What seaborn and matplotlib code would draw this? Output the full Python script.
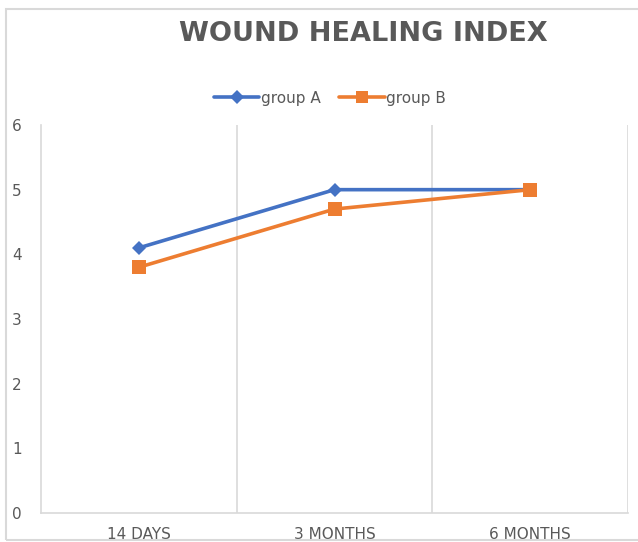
import matplotlib
matplotlib.use("Agg")
import matplotlib.pyplot as plt
import seaborn as sns
import pandas as pd
from matplotlib.patches import Rectangle
from matplotlib.ticker import FixedLocator
from matplotlib.lines import Line2D

categories = ["14 DAYS", "3 MONTHS", "6 MONTHS"]
group_a = [4.1, 5.0, 5.0]
group_b = [3.8, 4.7, 5.0]
series_names = ["group A", "group B"]
y_ticks = [0, 1, 2, 3, 4, 5, 6]

df = pd.DataFrame({
    "time": categories * 2,
    "value": group_a + group_b,
    "group": [series_names[0]] * 3 + [series_names[1]] * 3,
})
df["pos"] = [0, 1, 2] * 2

sns.set_theme(style="white")
plt.rcParams["font.family"] = ["DejaVu Sans"]

fig = plt.figure(figsize=(6.38, 5.42), dpi=100)
ax = fig.add_axes([41 / 638, 1 - 513 / 542, (628 - 41) / 638, (513 - 125) / 542])

palette = {"group A": "#4472C4", "group B": "#ED7D31"}
markers = {"group A": "D", "group B": "s"}
sns.lineplot(data=df, x="pos", y="value", hue="group", style="group",
             palette=palette, markers=markers, dashes=False, ax=ax,
             linewidth=2.6, markersize=8, markeredgewidth=0, legend=False)
for line in ax.lines:
    if line.get_marker() == "s":
        line.set_markersize(10)
    else:
        line.set_markersize(7.5)

ax.set_xlim(-0.5, 2.5)
ax.set_ylim(0, 6)
ax.set_yticks(y_ticks)
ax.set_yticklabels([str(t) for t in y_ticks])
ax.set_xticks([0, 1, 2])
ax.set_xticklabels(categories)
ax.xaxis.set_minor_locator(FixedLocator([0.5, 1.5, 2.5]))
ax.grid(False)
ax.grid(True, which="minor", axis="x", color="#D9D9D9", linewidth=1.2)
ax.tick_params(axis="both", which="both", length=0)
ax.tick_params(axis="y", labelsize=11, labelcolor="#595959", pad=14)
ax.tick_params(axis="x", labelsize=11, labelcolor="#595959", pad=10)
ax.set_xlabel("")
ax.set_ylabel("")
for side in ["top", "right"]:
    ax.spines[side].set_visible(False)
for side in ["left", "bottom"]:
    ax.spines[side].set_color("#D9D9D9")
    ax.spines[side].set_linewidth(1.2)

handles = [Line2D([0], [0], color=palette[n], marker=markers[n], linewidth=2.6,
                  markersize=(7 if n == "group A" else 9), markeredgewidth=0)
           for n in series_names]
fig.legend(handles, series_names, loc="center", bbox_to_anchor=(330 / 638, 1 - 98 / 542),
           ncol=2, frameon=False, fontsize=11, labelcolor="#595959",
           handlelength=3.0, handletextpad=0.1, columnspacing=1.2)

fig.text(363 / 638, 1 - 34 / 542, "WOUND HEALING INDEX", ha="center", va="center",
         fontsize=19.5, fontweight="bold", color="#595959")

fig.patches.append(Rectangle((6 / 638, 2 / 542), 1.0, 1 - 11 / 542,
                             transform=fig.transFigure, fill=False,
                             edgecolor="#D9D9D9", linewidth=1.5))

fig.savefig("out.png", dpi=100)
